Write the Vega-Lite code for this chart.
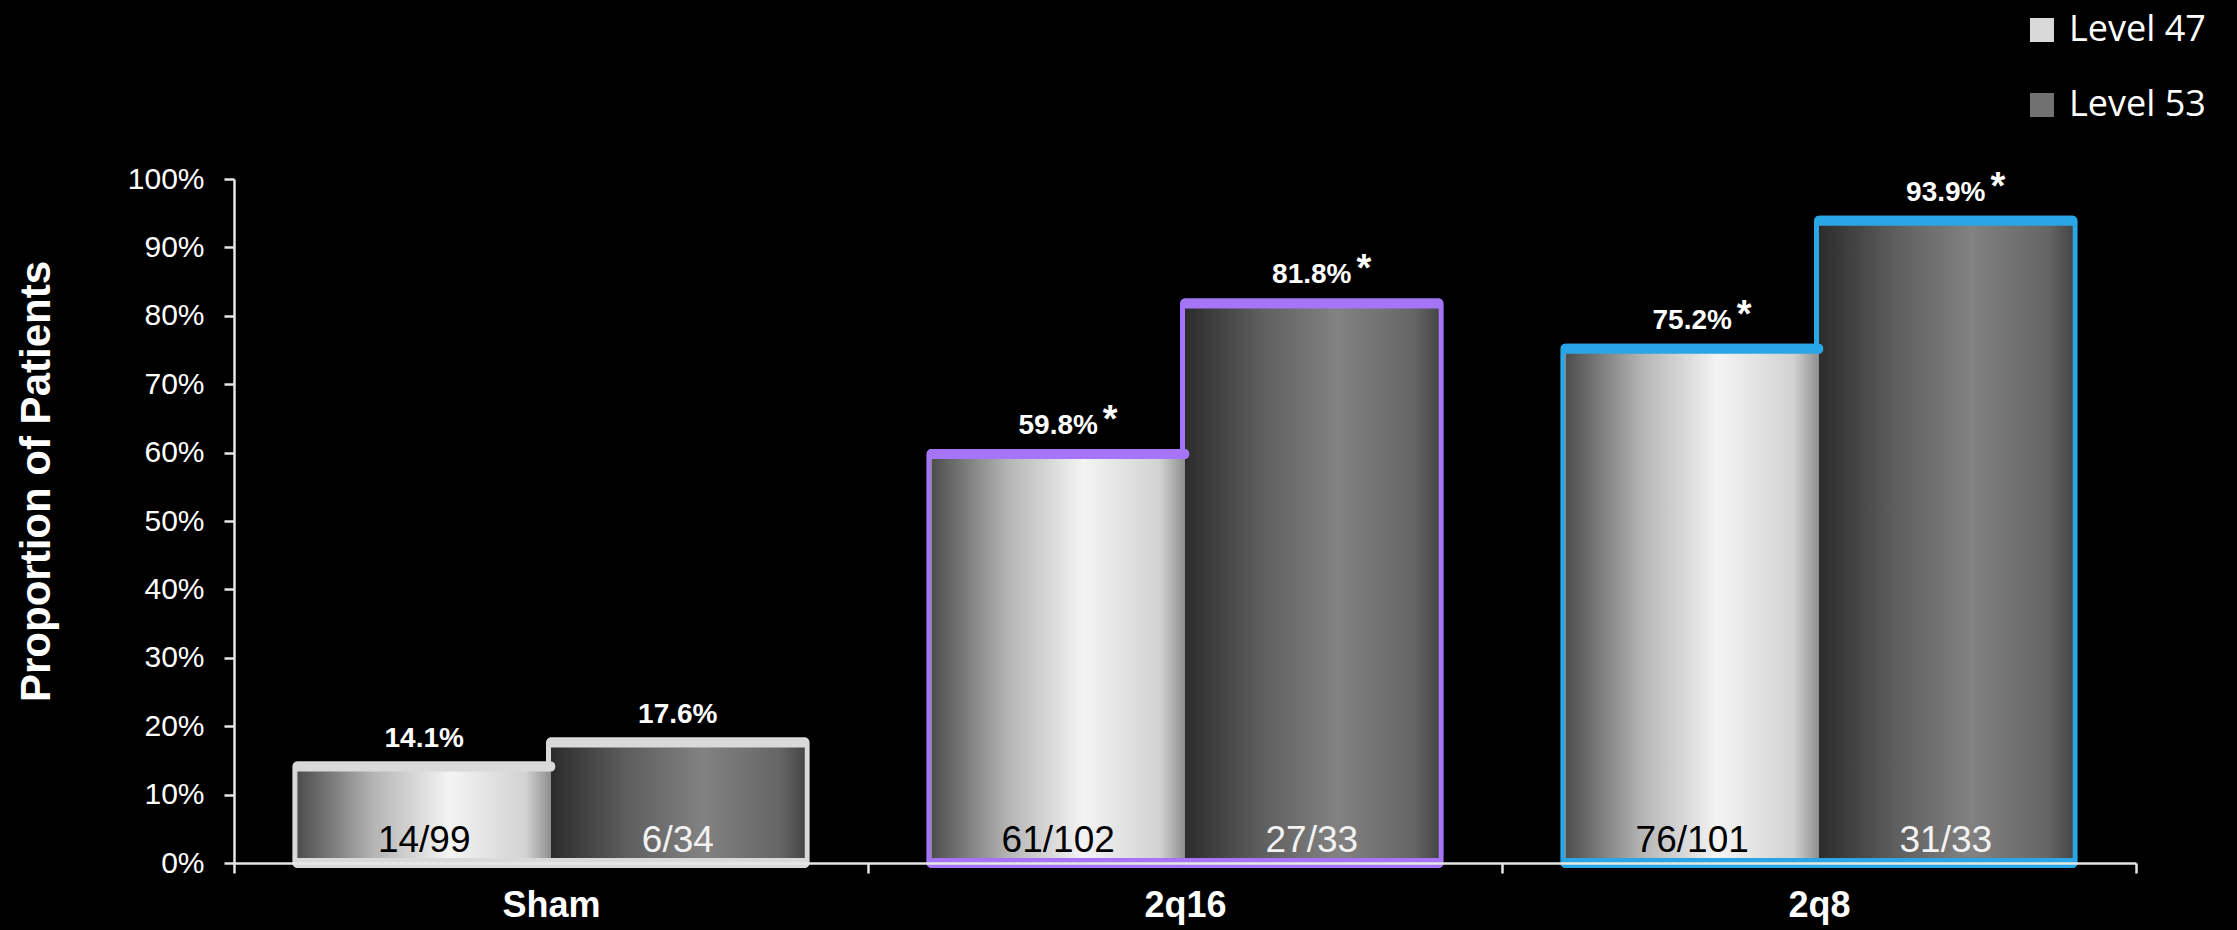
{
  "$schema": "https://vega.github.io/schema/vega-lite/v6.json",
  "width": 1902,
  "height": 684,
  "autosize": {"type": "none"},
  "padding": {"left": 234, "top": 179, "right": 101, "bottom": 67},
  "background": "#000000",
  "config": {
    "view": {"stroke": null},
    "font": "Liberation Sans",
    "legend": {
      "orient": "none",
      "legendX": 1790,
      "legendY": -167,
      "padding": 0,
      "symbolType": "square",
      "symbolSize": 576,
      "symbolStrokeWidth": 0,
      "labelFont": "Open Sans",
      "labelFontSize": 36,
      "labelColor": "#ffffff",
      "labelOffset": 9,
      "rowPadding": 39
    }
  },
  "data": {
    "values": [
      {"group": "Sham", "level": "Level 47", "pct": 0.141, "frac": "14/99", "sig": ""},
      {"group": "Sham", "level": "Level 53", "pct": 0.176, "frac": "6/34", "sig": ""},
      {"group": "2q16", "level": "Level 47", "pct": 0.598, "frac": "61/102", "sig": "*"},
      {"group": "2q16", "level": "Level 53", "pct": 0.818, "frac": "27/33", "sig": "*"},
      {"group": "2q8", "level": "Level 47", "pct": 0.752, "frac": "76/101", "sig": "*"},
      {"group": "2q8", "level": "Level 53", "pct": 0.939, "frac": "31/33", "sig": "*"}
    ]
  },
  "encoding": {
    "x": {
      "field": "group",
      "type": "nominal",
      "sort": ["Sham", "2q16", "2q8"],
      "scale": {"paddingInner": 0, "paddingOuter": 0},
      "axis": {
        "title": null,
        "labelAngle": 0,
        "labelFont": "Liberation Sans",
        "labelFontWeight": "bold",
        "labelFontSize": 36,
        "labelColor": "#ffffff",
        "labelBaseline": "top",
        "labelPadding": 15,
        "tickBand": "extent",
        "tickSize": 10,
        "tickColor": "#e6e6e6",
        "tickWidth": 2.5,
        "domainColor": "#e6e6e6",
        "domainWidth": 2.5,
        "grid": false,
        "zindex": 1
      }
    },
    "xOffset": {
      "field": "level",
      "type": "nominal",
      "sort": ["Level 47", "Level 53"],
      "scale": {"paddingInner": 0, "paddingOuter": 0.25}
    }
  },
  "layer": [
    {
      "mark": {"type": "bar", "fill": "transparent", "strokeWidth": 10, "strokeJoin": "round"},
      "encoding": {
        "y": {
          "field": "pct",
          "type": "quantitative",
          "scale": {"domain": [0, 1]},
          "axis": {
            "values": [0, 0.1, 0.2, 0.3, 0.4, 0.5, 0.6, 0.7, 0.8, 0.9, 1],
            "format": ".0%",
            "grid": false,
            "labelFont": "Liberation Sans",
            "labelFontSize": 30,
            "labelColor": "#ffffff",
            "labelPadding": 20,
            "tickSize": 10,
            "tickColor": "#e6e6e6",
            "tickWidth": 2.5,
            "domainColor": "#e6e6e6",
            "domainWidth": 2.5,
            "title": "Proportion of Patients",
            "titleFont": "Liberation Sans",
            "titleFontSize": 42,
            "titleFontWeight": "bold",
            "titleColor": "#ffffff",
            "titleAngle": -90,
            "titleAlign": "center",
            "titleBaseline": "bottom",
            "titleX": -176,
            "titleY": 302
          }
        },
        "stroke": {
          "field": "group",
          "type": "nominal",
          "scale": {"domain": ["Sham", "2q16", "2q8"], "range": ["#d9d9d9", "#a574f7", "#29a6e6"]},
          "legend": null
        }
      }
    },
    {
      "mark": {"type": "bar"},
      "encoding": {
        "y": {"field": "pct", "type": "quantitative"},
        "fill": {
          "field": "level",
          "type": "nominal",
          "scale": {"domain": ["Level 47", "Level 53"], "range": ["#d9d9d9", "#717171"]},
          "legend": {"title": null}
        }
      }
    },
    {
      "transform": [{"filter": "datum.level === 'Level 47'"}],
      "mark": {
        "type": "bar",
        "stroke": "#8c8c8c",
        "strokeWidth": 1,
        "fill": {
          "gradient": "linear",
          "x1": 0, "y1": 0, "x2": 1, "y2": 0,
          "stops": [
            {"offset": 0, "color": "#4d4d4d"},
            {"offset": 0.3, "color": "#b4b4b4"},
            {"offset": 0.6, "color": "#f4f4f4"},
            {"offset": 0.9, "color": "#d2d2d2"},
            {"offset": 1, "color": "#8e8e8e"}
          ]
        }
      },
      "encoding": {"y": {"field": "pct", "type": "quantitative"}}
    },
    {
      "transform": [{"filter": "datum.level === 'Level 53'"}],
      "mark": {
        "type": "bar",
        "fill": {
          "gradient": "linear",
          "x1": 0, "y1": 0, "x2": 1, "y2": 0,
          "stops": [
            {"offset": 0, "color": "#2c2c2c"},
            {"offset": 0.3, "color": "#5e5e5e"},
            {"offset": 0.6, "color": "#828282"},
            {"offset": 0.9, "color": "#666666"},
            {"offset": 1, "color": "#474747"}
          ]
        }
      },
      "encoding": {"y": {"field": "pct", "type": "quantitative"}}
    },
    {
      "mark": {"type": "tick", "thickness": 10, "size": 262, "cornerRadius": 4, "opacity": 1},
      "encoding": {
        "y": {"field": "pct", "type": "quantitative"},
        "color": {
          "field": "group",
          "type": "nominal",
          "scale": {"domain": ["Sham", "2q16", "2q8"], "range": ["#d9d9d9", "#a574f7", "#29a6e6"]},
          "legend": null
        }
      }
    },
    {
      "mark": {"type": "tick", "thickness": 10, "size": 262, "cornerRadius": 4, "opacity": 1},
      "encoding": {
        "y": {"datum": 0, "type": "quantitative"},
        "color": {"field": "group", "type": "nominal", "legend": null}
      }
    },
    {
      "mark": {
        "type": "text",
        "font": "Liberation Sans",
        "fontWeight": "bold",
        "fontSize": 28,
        "color": "#ffffff",
        "baseline": "alphabetic",
        "dy": -20
      },
      "encoding": {
        "y": {"field": "pct", "type": "quantitative"},
        "text": {"field": "pct", "type": "quantitative", "format": ".1%"}
      }
    },
    {
      "transform": [{"filter": "datum.sig === '*'"}],
      "mark": {
        "type": "text",
        "font": "Liberation Sans",
        "fontWeight": "bold",
        "fontSize": 38,
        "color": "#ffffff",
        "baseline": "alphabetic",
        "dx": 52,
        "dy": -22
      },
      "encoding": {
        "y": {"field": "pct", "type": "quantitative"},
        "text": {"field": "sig"}
      }
    },
    {
      "mark": {
        "type": "text",
        "font": "Liberation Sans",
        "fontSize": 37,
        "baseline": "alphabetic",
        "dy": -11
      },
      "encoding": {
        "y": {"datum": 0, "type": "quantitative"},
        "text": {"field": "frac"},
        "color": {
          "condition": {"test": "datum.level === 'Level 47'", "value": "#000000"},
          "value": "#f2f2f2"
        }
      }
    }
  ]
}
